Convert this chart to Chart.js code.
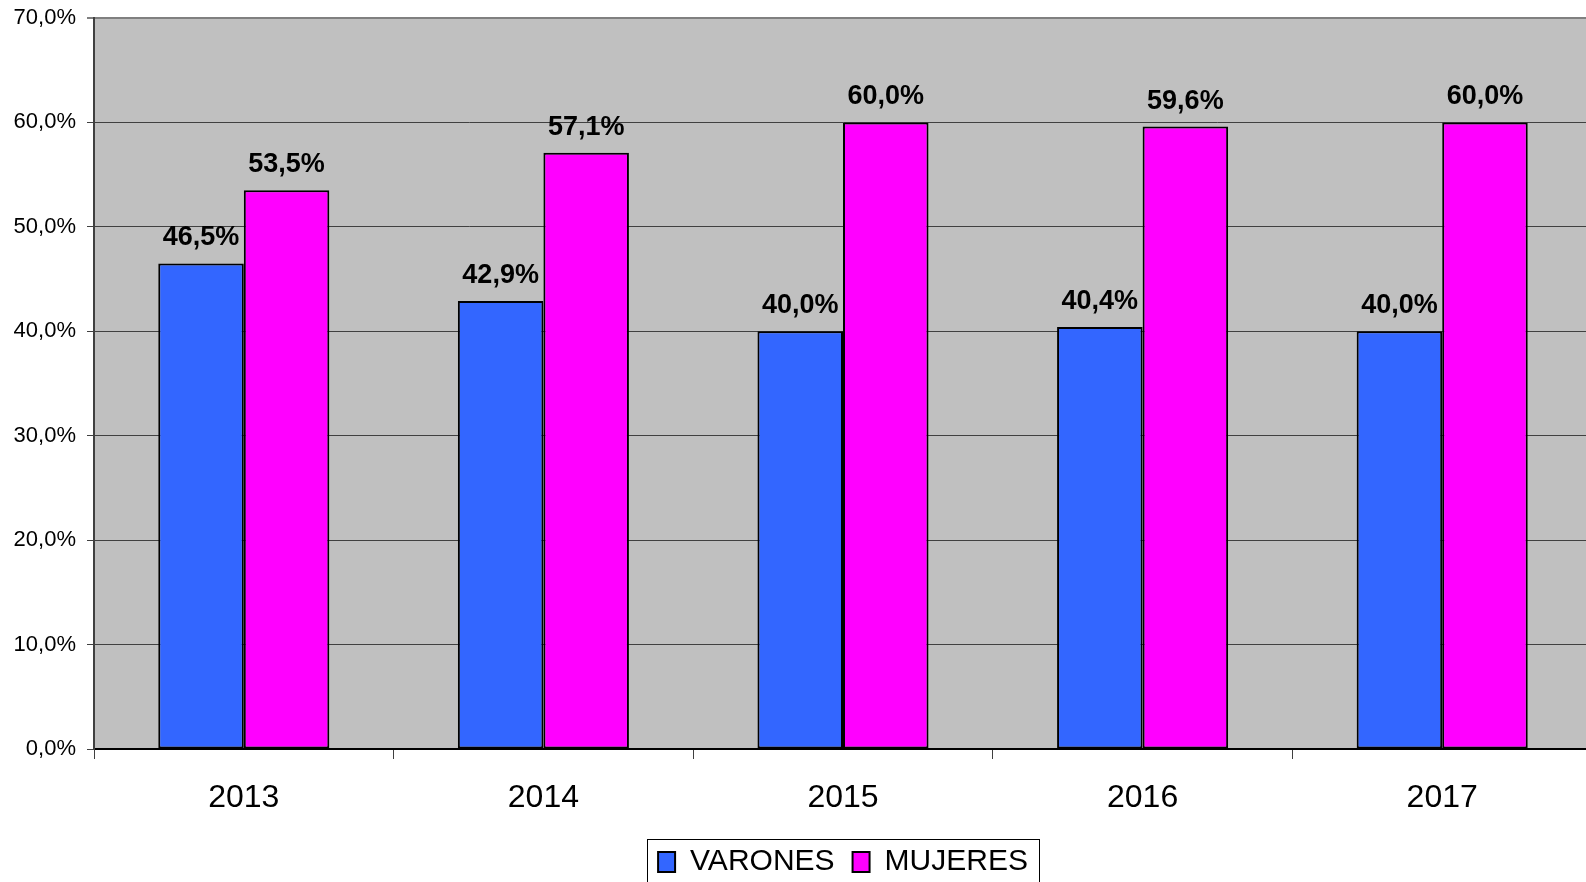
<!DOCTYPE html>
<html>
<head>
<meta charset="utf-8">
<script src="https://cdn.jsdelivr.net/npm/chart.js@4"></script>
<style>
    html, body { margin: 0; padding: 0; background: #fff; overflow: hidden; }
    #wrap { width: 1586px; height: 882px; overflow: hidden; }
</style>
</head>
<body>
<div id="wrap"><canvas id="chart" width="1592" height="887"></canvas></div>
<script>
const years = ['2013', '2014', '2015', '2016', '2017'];
const varones = [46.5, 42.9, 40.0, 40.4, 40.0];
const mujeres = [53.5, 57.1, 60.0, 59.6, 60.0];
const seriesNames = ['VARONES', 'MUJERES'];
const yTicks = [0, 10, 20, 30, 40, 50, 60, 70];

const FONT = "'Liberation Sans', Arial, sans-serif";

// formats 46.5 -> "46,5%"
function pct(v) {
    return v.toFixed(1).replace('.', ',') + '%';
}

// grey plot background
const plotBg = {
    id: 'plotBg',
    beforeDraw(chart) {
        const { ctx, chartArea: a } = chart;
        ctx.save();
        ctx.fillStyle = '#c0c0c0';
        ctx.fillRect(a.left, a.top, a.right - a.left, a.bottom - a.top);
        ctx.restore();
    }
};

// value labels above each bar
const valueLabels = {
    id: 'valueLabels',
    afterDatasetsDraw(chart) {
        const ctx = chart.ctx;
        ctx.save();
        ctx.font = 'bold 27px ' + FONT;
        ctx.fillStyle = '#000';
        ctx.textAlign = 'center';
        ctx.textBaseline = 'alphabetic';
        chart.data.datasets.forEach((ds, i) => {
            chart.getDatasetMeta(i).data.forEach((bar, j) => {
                ctx.fillText(pct(ds.data[j]), bar.x, bar.y - 18);
            });
        });
        ctx.restore();
    }
};

// frame round the legend, like the original
const legendFrame = {
    id: 'legendFrame',
    afterDraw(chart) {
        const boxes = chart.legend.legendHitBoxes;
        if (!boxes || !boxes.length) return;
        const first = boxes[0];
        const last = boxes[boxes.length - 1];
        const ctx = chart.ctx;
        ctx.save();
        ctx.strokeStyle = '#000';
        ctx.lineWidth = 1;
        const x0 = Math.round(first.left - 11) + 0.5;
        const x1 = Math.round(last.left + last.width + 11) + 0.5;
        const y0 = Math.round(first.top - 8) + 0.5;
        ctx.strokeRect(x0, y0, x1 - x0, 100);
        ctx.restore();
    }
};

new Chart(document.getElementById('chart'), {
    type: 'bar',
    data: {
        labels: years,
        datasets: [{
            label: seriesNames[0],
            data: varones,
            backgroundColor: '#3366ff',
            borderColor: '#000',
            borderWidth: 2,
            borderSkipped: false
        }, {
            label: seriesNames[1],
            data: mujeres,
            backgroundColor: '#ff00ff',
            borderColor: '#000',
            borderWidth: 2,
            borderSkipped: false
        }]
    },
    options: {
        responsive: false,
        animation: false,
        layout: { padding: { left: 0, top: 18, right: 0, bottom: 0 } },
        datasets: {
            bar: { categoryPercentage: 0.571, barPercentage: 1.0 }
        },
        scales: {
            x: {
                grid: {
                    offset: true,
                    drawOnChartArea: false,
                    color: '#404040',
                    tickLength: 10
                },
                border: { color: '#000', width: 2 },
                ticks: {
                    color: '#000',
                    padding: 20,
                    font: { family: FONT, size: 32 }
                },
                afterFit(scale) { scale.height = 80; }
            },
            y: {
                min: 0,
                max: 70,
                afterBuildTicks(scale) {
                    scale.ticks = yTicks.map(v => ({ value: v }));
                },
                grid: {
                    color: (c) => c.tick && c.tick.value === 70 ? '#808080' : '#404040',
                    lineWidth: (c) => c.tick && c.tick.value === 70 ? 2 : 1,
                    tickLength: 7
                },
                border: { color: '#404040', width: 2 },
                ticks: {
                    color: '#000',
                    padding: 11,
                    font: { family: FONT, size: 22 },
                    callback: (v) => pct(v)
                },
                afterFit(scale) {
                    scale.width = 94;
                    scale.paddingTop = 0;
                    scale.paddingBottom = 0;
                }
            }
        },
        plugins: {
            legend: {
                position: 'bottom',
                fullSize: false,
                labels: {
                    color: '#000',
                    font: { family: FONT, size: 30 },
                    boxWidth: 17,
                    boxHeight: 20,
                    padding: 18
                }
            },
            tooltip: { enabled: false }
        }
    },
    plugins: [plotBg, valueLabels, legendFrame]
});
</script>
</body>
</html>
